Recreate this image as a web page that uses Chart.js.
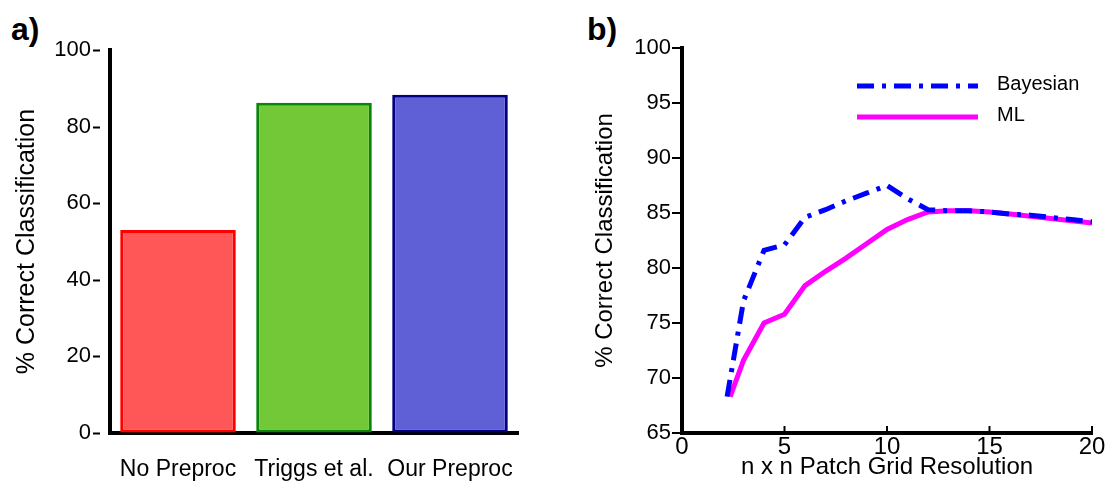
<!DOCTYPE html>
<html>
<head>
<meta charset="utf-8">
<script src="https://cdn.jsdelivr.net/npm/chart.js@4"></script>
<style>
body{margin:0;background:#fff;width:1108px;height:482px;overflow:hidden;position:relative;font-family:"Liberation Sans",Arial,sans-serif}
canvas{position:absolute;top:0}
#graficoA{left:0}
#graficoB{left:560px}
.painel{position:absolute;font-weight:bold;font-size:32px;line-height:32px;color:#000}
</style>
</head>
<body>
<div class="painel" style="left:11px;top:13px">a)</div>
<div class="painel" style="left:587px;top:13px">b)</div>
<canvas id="graficoA" width="560" height="482"></canvas>
<canvas id="graficoB" width="548" height="482"></canvas>
<script>
// dados do painel a)
const metodos = ["No Preproc", "Triggs et al.", "Our Preproc"];
const acertos = [53.0, 86.2, 88.3];
const ticksA = [0, 20, 40, 60, 80, 100];

// dados do painel b)
const resBayes = [2.2, 3, 4, 5, 6, 7, 8, 9, 10, 11, 12, 13, 14, 15, 16, 17, 18, 19, 20];
const bayes = [68.3, 77.0, 81.6, 82.1, 84.6, 85.3, 86.1, 86.8, 87.5, 86.3, 85.3, 85.2, 85.2, 85.1, 84.9, 84.8, 84.6, 84.4, 84.2];
const resML = [2.35, 3, 4, 5, 6, 7, 8, 9, 10, 11, 12, 13, 14, 15, 16, 17, 18, 19, 20];
const ml = [68.3, 71.6, 75.0, 75.8, 78.4, 79.7, 80.9, 82.2, 83.5, 84.4, 85.1, 85.2, 85.2, 85.1, 84.9, 84.7, 84.5, 84.3, 84.1];
const ticksBx = [0, 5, 10, 15, 20];
const ticksBy = [65, 70, 75, 80, 85, 90, 95, 100];

Chart.defaults.font.family = '"Liberation Sans", Arial, sans-serif';
Chart.defaults.color = "#000";
Chart.defaults.animation = false;

function fixaTicks(lista){ return function(s){ s.ticks = lista.map(v => ({value: v})); }; }

// marquinhas do eixo y separadas do eixo (painel a)
const marcasA = {id: "marcasA", afterDraw(chart){
    const c = chart.ctx, y = chart.scales.y, x0 = chart.chartArea.left;
    c.save(); c.strokeStyle = "#000"; c.lineWidth = 2;
    y.ticks.forEach(t => { const p = Math.round(y.getPixelForValue(t.value)) + 0.5;
        c.beginPath(); c.moveTo(x0 - 17, p); c.lineTo(x0 - 10, p); c.stroke(); });
    c.restore();
}};

// ticks do eixo x para dentro (painel b)
const marcasB = {id: "marcasB", afterDraw(chart){
    const c = chart.ctx, x = chart.scales.x, y0 = chart.chartArea.bottom;
    c.save(); c.strokeStyle = "#000"; c.lineWidth = 2;
    x.ticks.forEach(t => { const p = x.getPixelForValue(t.value);
        c.beginPath(); c.moveTo(p, y0); c.lineTo(p, y0 - 7); c.stroke(); });
    c.restore();
}};

// legenda manual
const legendaB = {id: "legendaB", afterDraw(chart){
    const c = chart.ctx;
    const itens = chart.data.datasets.map((d, i) => ({txt: d.label, cor: d.borderColor, dash: d.borderDash || [], y: 86 + i * 31}));
    c.save();
    itens.forEach(it => {
        c.strokeStyle = it.cor; c.lineWidth = 5; c.lineCap = "butt"; c.setLineDash(it.dash);
        c.beginPath(); c.moveTo(297, it.y); c.lineTo(418, it.y); c.stroke();
        c.setLineDash([]);
        c.fillStyle = "#000"; c.font = '20px "Liberation Sans", Arial, sans-serif';
        c.textBaseline = "middle"; c.fillText(it.txt, 437, it.y - 2);
    });
    c.restore();
}};

new Chart(document.getElementById("graficoA"), {
    type: "bar",
    data: {labels: metodos, datasets: [{
        data: acertos,
        backgroundColor: ["#ff5757", "#72c837", "#6060d6"],
        borderColor: ["#ff0000", "#0a850a", "#000080"],
        borderWidth: 3, borderSkipped: false,
        barPercentage: 0.85, categoryPercentage: 1
    }]},
    options: {
        responsive: false,
        layout: {padding: {top: 50, right: 42, left: 0, bottom: 0}},
        plugins: {legend: {display: false}, tooltip: {enabled: false}},
        scales: {
            x: {
                grid: {display: true, drawOnChartArea: false, drawTicks: false},
                border: {color: "#000", width: 4},
                ticks: {font: {size: 23}, padding: 23},
                afterFit(s){ s.height = 49; }
            },
            y: {
                min: 0, max: 100,
                afterBuildTicks: fixaTicks(ticksA),
                grid: {display: true, drawOnChartArea: false, drawTicks: false},
                border: {color: "#000", width: 4},
                ticks: {font: {size: 22}, padding: 19},
                title: {display: true, text: "% Correct Classification", font: {size: 25}, padding: {top: 12, bottom: 0}},
                afterFit(s){ s.width = 110; }
            }
        }
    },
    plugins: [marcasA]
});

new Chart(document.getElementById("graficoB"), {
    type: "line",
    data: {datasets: [
        {label: "Bayesian", data: resBayes.map((v, i) => ({x: v, y: bayes[i]})),
         borderColor: "#0000ff", borderWidth: 5, borderDash: [17, 8, 4, 8], borderCapStyle: "butt",
         pointRadius: 0, fill: false, tension: 0},
        {label: "ML", data: resML.map((v, i) => ({x: v, y: ml[i]})),
         borderColor: "#ff00ff", borderWidth: 5, pointRadius: 0, fill: false, tension: 0}
    ]},
    options: {
        responsive: false,
        layout: {padding: {top: 48, right: 16, left: 0, bottom: 0}},
        plugins: {legend: {display: false}, tooltip: {enabled: false}},
        scales: {
            x: {
                type: "linear", min: 0, max: 20,
                afterBuildTicks: fixaTicks(ticksBx),
                grid: {display: true, drawOnChartArea: false, drawTicks: false},
                border: {color: "#000", width: 4},
                ticks: {font: {size: 24}, padding: 0},
                title: {display: true, text: "n x n Patch Grid Resolution", font: {size: 24}, padding: {top: 0, bottom: 0}},
                afterFit(s){ s.height = 49; }
            },
            y: {
                min: 65, max: 100,
                afterBuildTicks: fixaTicks(ticksBy),
                grid: {display: true, drawOnChartArea: false, drawTicks: true, tickLength: 10, color: "#000", lineWidth: 2},
                border: {color: "#000", width: 4},
                ticks: {font: {size: 22}, padding: 1},
                title: {display: true, text: "% Correct Classification", font: {size: 24}, padding: {top: 31, bottom: 0}},
                afterFit(s){ s.width = 122; }
            }
        }
    },
    plugins: [marcasB, legendaB]
});
</script>
</body>
</html>
